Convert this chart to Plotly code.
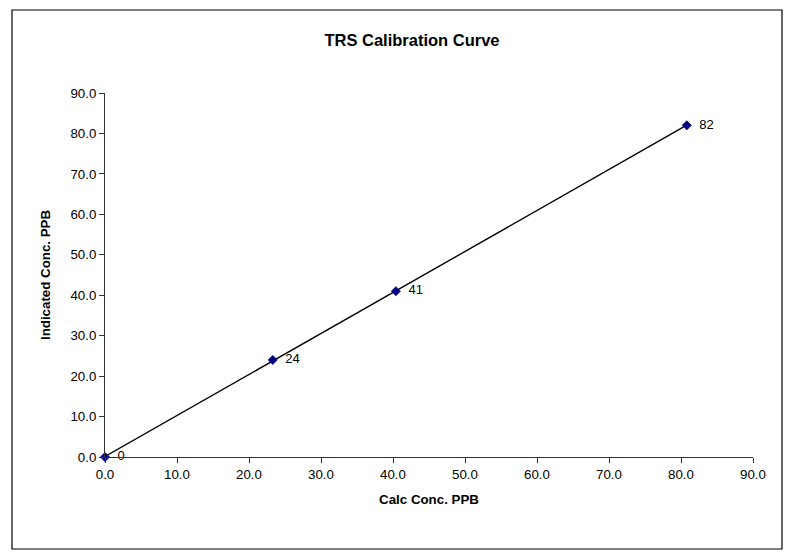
import numpy as np
import plotly.graph_objects as go

calc_conc = [0.0, 23.3, 40.4, 80.8]
indicated_conc = [0, 24, 41, 82]
point_labels = ["0", "24", "41", "82"]
tick_vals = [0, 10, 20, 30, 40, 50, 60, 70, 80, 90]
tick_text = ["0.0", "10.0", "20.0", "30.0", "40.0", "50.0", "60.0", "70.0", "80.0", "90.0"]

# linear trendline (least squares) across the data range
slope, intercept = np.polyfit(calc_conc, indicated_conc, 1)
trend_x = [min(calc_conc), max(calc_conc)]
trend_y = [slope * x + intercept for x in trend_x]

FONT = "Arial, Liberation Sans, sans-serif"
W, H = 792, 558
L, R, T, B = 105, 39, 93, 101

fig = go.Figure()
fig.add_trace(go.Scatter(
    x=trend_x, y=trend_y, mode="lines",
    line=dict(color="black", width=1.4),
    hoverinfo="skip", showlegend=False, cliponaxis=False,
))
fig.add_trace(go.Scatter(
    x=calc_conc, y=indicated_conc, mode="markers+text",
    marker=dict(symbol="diamond", size=7, color="#000080",
                line=dict(color="#000080", width=0.8)),
    text=["  " + t for t in point_labels], textposition="middle right",
    textfont=dict(family=FONT, size=13, color="black"),
    showlegend=False, cliponaxis=False,
))

pw = W - L - R
ph = H - T - B
fig.add_shape(type="rect", xref="paper", yref="paper",
              x0=(12 - L) / pw, x1=(782 - L) / pw,
              y0=(H - B - 549) / ph, y1=(H - B - 10) / ph,
              line=dict(color="black", width=1.2), fillcolor="rgba(0,0,0,0)")

axis_common = dict(
    tickmode="array", tickvals=tick_vals, ticktext=tick_text,
    showgrid=False, zeroline=False, showline=True, linecolor="#333",
    linewidth=1, ticks="outside", ticklen=5, tickcolor="#333",
    tickfont=dict(family=FONT, size=13.3, color="black"),
    range=[0, 90], fixedrange=True,
)
fig.update_layout(
    width=W, height=H,
    margin=dict(l=L, r=R, t=T, b=B, autoexpand=False),
    paper_bgcolor="white", plot_bgcolor="white",
    title=dict(text="<b>TRS Calibration Curve</b>", x=412 / W, xanchor="center",
               y=1 - 40 / H, yanchor="middle",
               font=dict(family=FONT, size=16.5, color="black")),
    xaxis=dict(**axis_common,
               title=dict(text="<b>Calc Conc. PPB</b>", standoff=13,
                          font=dict(family=FONT, size=13.3, color="black"))),
    yaxis=dict(**axis_common,
               title=dict(text="<b>Indicated Conc. PPB</b>", standoff=16,
                          font=dict(family=FONT, size=13.3, color="black"))),
)

fig.write_html("out.html", config={"displayModeBar": False},
               post_script="document.body.style.margin='0';document.body.style.overflow='hidden';")
